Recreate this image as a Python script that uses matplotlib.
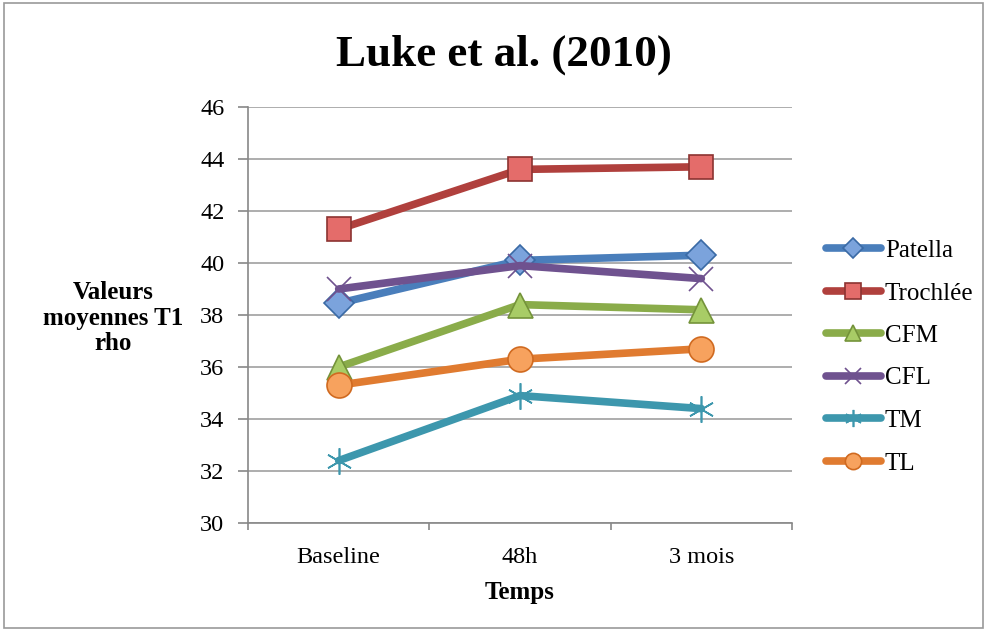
import matplotlib.pyplot as plt
from matplotlib.patches import Rectangle

plt.rcParams['font.family'] = ['Liberation Serif', 'DejaVu Serif']

# donnees
temps = ['Baseline', '48h', '3 mois']
patella = [38.45, 40.1, 40.3]
trochlee = [41.3, 43.6, 43.7]
cfm = [36.0, 38.4, 38.2]
cfl = [39.0, 39.9, 39.4]
tm = [32.4, 34.9, 34.4]
tl = [35.3, 36.3, 36.7]

series = [
    ('Patella', patella, '#4a7ebb', 'D', '#7ba3dc', '#3a6aa5', 15),
    ('Trochlée', trochlee, '#b0403d', 's', '#e46c6a', '#8c3331', 17),
    ('CFM', cfm, '#8aac4a', '^', '#a8cc66', '#74933a', 18),
    ('CFL', cfl, '#6f528f', 'x', '#6f528f', '#6f528f', 17),
    ('TM', tm, '#3d97ad', (6, 2, 0), '#3d97ad', '#3d97ad', 19),
    ('TL', tl, '#e07b30', 'o', '#f7a25e', '#d06a20', 18),
]

fig = plt.figure(figsize=(9.87, 6.31), dpi=100)
ax = fig.add_axes([248 / 987, 1 - 523 / 631, 544 / 987, 416 / 631])

x = list(range(len(temps)))
for name, vals, col, mk, fc, ec, ms in series:
    ax.plot(x, vals, color=col, lw=5.5, marker=mk, ms=ms,
            markerfacecolor=fc, markeredgecolor=ec, markeredgewidth=1.2,
            label=name, solid_capstyle='round', zorder=3)

ax.set_xlim(-0.5, 2.5)
ax.set_ylim(30, 46)
ax.set_yticks(range(30, 47, 2))
ax.set_xticks(x)
ax.set_xticklabels(temps)
ax.set_xticks([-0.5, 0.5, 1.5, 2.5], minor=True)
ax.tick_params(axis='x', which='major', length=0, pad=17)
ax.tick_params(axis='x', which='minor', length=5, color='#888888', width=1.2)
ax.tick_params(axis='y', length=7, color='#888888', width=1.2, pad=10)
ax.tick_params(labelsize=17.5)
ax.grid(axis='y', color='#a0a0a0', lw=1.2)
ax.set_axisbelow(True)
for s in ['top', 'right']:
    ax.spines[s].set_visible(False)
for s in ['left', 'bottom']:
    ax.spines[s].set_color('#888888')
    ax.spines[s].set_linewidth(1.2)

ax.set_xlabel('Temps', fontsize=18, fontweight='bold', labelpad=10)
fig.text(113 / 987, 1 - 318 / 631, 'Valeurs\nmoyennes T1\nrho', ha='center', va='center',
         fontsize=18, fontweight='bold', linespacing=1.15)
fig.text(504 / 987, 1 - 55 / 631, 'Luke et al. (2010)', ha='center', va='center',
         fontsize=32.5, fontweight='bold')

ax.legend(loc='center left', bbox_to_anchor=(826 / 987, 1 - 357 / 631),
          bbox_transform=fig.transFigure, frameon=False, fontsize=18,
          handlelength=2.2, labelspacing=0.8, handletextpad=0.15, borderpad=0,
          borderaxespad=0, markerscale=0.65)

fig.patches.append(Rectangle((0.004, 0.004), 0.992, 0.992, transform=fig.transFigure,
                             fill=False, edgecolor='#999999', lw=1.2))

fig.savefig('out.png', dpi=100)
